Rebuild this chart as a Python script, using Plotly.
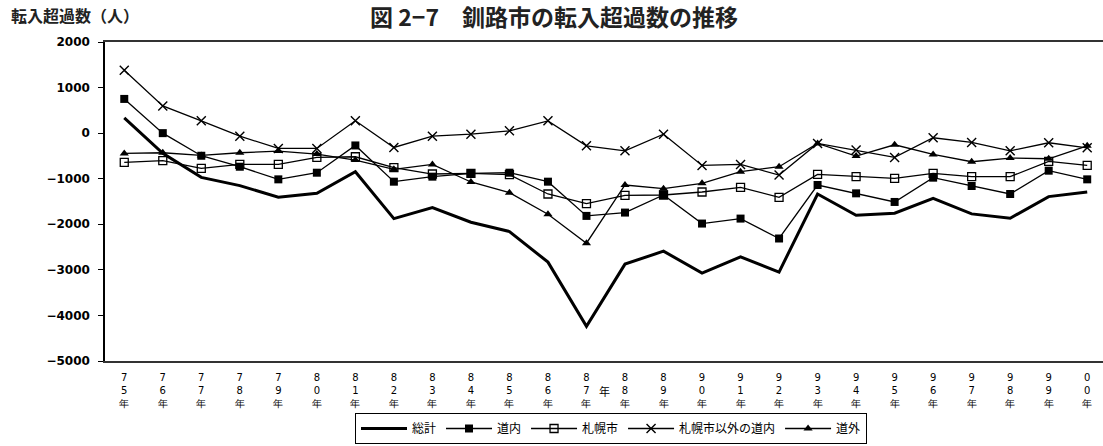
import plotly.graph_objects as go

years = ["75", "76", "77", "78", "79", "80", "81", "82", "83", "84", "85", "86", "87",
         "88", "89", "90", "91", "92", "93", "94", "95", "96", "97", "98", "99", "00"]
total = [335, -444, -970, -1152, -1407, -1320, -846, -1875, -1634, -1955, -2159, -2830, -4238,
         -2874, -2590, -3071, -2713, -3049, -1335, -1802, -1758, -1430, -1772, -1867, -1393, -1291]
dounai = [751, 0, -496, -737, -1014, -868, -270, -1065, -955, -882, -868, -1065, -1816,
          -1743, -1357, -1984, -1875, -2312, -1138, -1321, -1510, -977, -1160, -1335, -824, -1014]
sapporo = [-642, -605, -773, -686, -686, -532, -518, -758, -897, -882, -912, -1335, -1547,
           -1364, -1357, -1291, -1189, -1408, -905, -955, -992, -882, -955, -955, -620, -708]
other_dounai = [1378, 598, 270, -66, -336, -336, 270, -314, -66, -22, 51, 270, -277,
                -387, -22, -708, -686, -919, -226, -372, -533, -102, -204, -387, -211, -321]
dougai = [-444, -430, -489, -430, -394, -459, -591, -795, -686, -1072, -1306, -1780, -2415,
          -1138, -1218, -1101, -846, -737, -226, -503, -255, -467, -627, -547, -562, -277]

tick_text = [f"{y[0]}<br>{y[1]}<br>年" for y in years]
boundaries = [i + 0.5 for i in range(len(years) - 1)]

JP = "Noto Sans CJK JP"
NUM = "DejaVu Sans"

fig = go.Figure()
fig.add_trace(go.Scatter(x=years, y=total, name="総計", mode="lines",
                         line=dict(color="black", width=3)))
fig.add_trace(go.Scatter(x=years, y=dounai, name="道内", mode="lines+markers",
                         line=dict(color="black", width=1.3),
                         marker=dict(symbol="square", size=8, color="black")))
fig.add_trace(go.Scatter(x=years, y=sapporo, name="札幌市", mode="lines+markers",
                         line=dict(color="black", width=1.3),
                         marker=dict(symbol="square-open", size=8, color="black",
                                     line=dict(width=1.3))))
fig.add_trace(go.Scatter(x=years, y=other_dounai, name="札幌市以外の道内", mode="lines+markers",
                         line=dict(color="black", width=1.3),
                         marker=dict(symbol="x-thin-open", size=9, color="black",
                                     line=dict(width=1.4, color="black"))))
fig.add_trace(go.Scatter(x=years, y=dougai, name="道外", mode="lines+markers",
                         line=dict(color="black", width=1.3),
                         marker=dict(symbol="triangle-up", size=8, color="black")))

R = [-0.5, 25.41]
fig.update_layout(
    width=1103, height=446,
    margin=dict(l=105, r=0, t=42, b=85),
    paper_bgcolor="white", plot_bgcolor="white",
    showlegend=True,
    title=dict(text="<b>図 2−7　釧路市の転入超過数の推移</b>",
               x=554 / 1103, xanchor="center", xref="container",
               y=1 - 18 / 446, yanchor="middle", yref="container",
               font=dict(family=JP, size=23, color="#222")),
    legend=dict(orientation="h", xref="container", yref="container",
                x=611 / 1103, xanchor="center", y=1 - 444 / 446, yanchor="bottom",
                bordercolor="black", borderwidth=1, bgcolor="white",
                font=dict(family=JP, size=12, color="black"),
                itemwidth=46, tracegroupgap=0),
    xaxis=dict(type="category", range=R, tickmode="array", tickvals=years,
               ticktext=tick_text, ticks="", showgrid=False, zeroline=False,
               showline=True, mirror=True, linecolor="#333", linewidth=1.5,
               tickfont=dict(family=NUM, size=10, color="black"),
               ticklabelstandoff=6),
    xaxis2=dict(overlaying="x", anchor="free", position=5 / 7, range=R,
                tickmode="array", tickvals=boundaries, showticklabels=False,
                ticks="inside", ticklen=4, tickcolor="black", showgrid=False,
                zeroline=False, showline=True, linecolor="black", linewidth=1.2),
    yaxis=dict(range=[-5000, 2000], dtick=1000, tick0=0, ticks="outside", ticklen=5,
               tickcolor="black", showgrid=False, zeroline=False, showline=True,
               linecolor="black", linewidth=1.5,
               tickfont=dict(family=NUM, size=12, color="black", weight="bold"),
               ticklabelstandoff=6),
    annotations=[
        dict(text="<b>転入超過数（人）</b>", xref="paper", yref="paper", x=-96 / 998, y=1,
             xanchor="left", yanchor="bottom", yshift=13, showarrow=False,
             font=dict(family=JP, size=16, color="#222")),
        dict(text="年", xref="paper", yref="paper", x=0.5, y=0, xanchor="center",
             yanchor="middle", yshift=-30, showarrow=False,
             font=dict(family=JP, size=11, color="black")),
    ],
)

fig.write_html("out.html", config={"displayModeBar": False},
               post_script="document.body.style.margin='0';")
